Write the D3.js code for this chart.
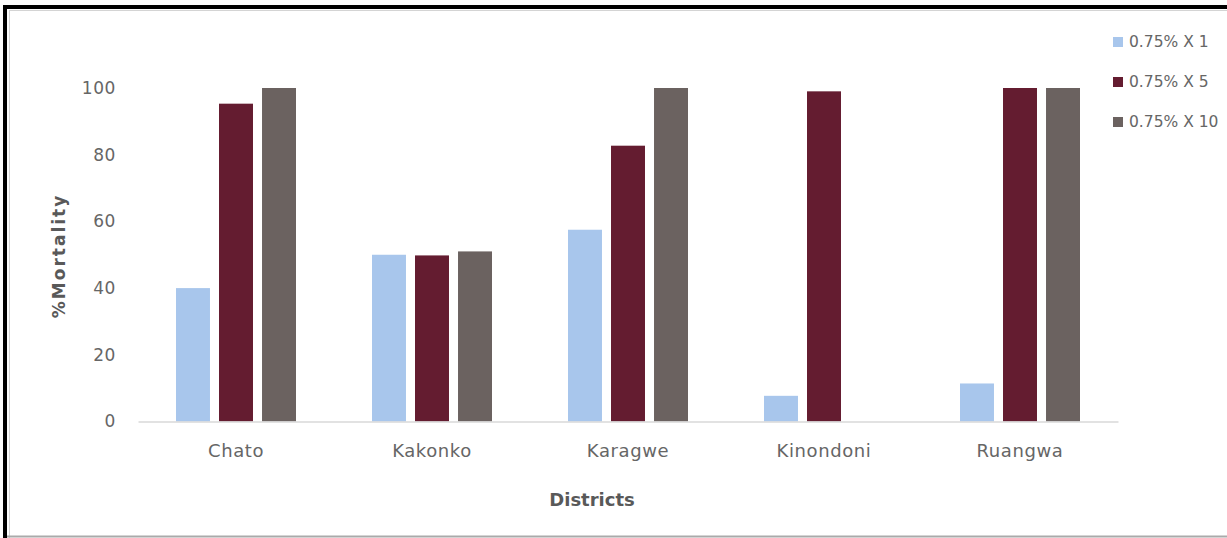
<!DOCTYPE html>
<html>
<head>
<meta charset="utf-8">
<script src="https://cdn.jsdelivr.net/npm/d3@7"></script>
<style>
  html, body { margin: 0; padding: 0; background: #fff; }
  svg { display: block; }
</style>
</head>
<body>
<svg id="chart" width="1227" height="538"></svg>
<script>
// Mortality by district for three dose levels
const districts = ["Chato", "Kakonko", "Karagwe", "Kinondoni", "Ruangwa"];
const seriesNames = ["0.75% X 1", "0.75% X 5", "0.75% X 10"];
const dose1 = [40, 50, 57.5, 7.7, 11.4];
const dose5 = [95.3, 49.8, 82.7, 99, 100];
const dose10 = [100, 51, 100, null, 100];
const yTicks = [0, 20, 40, 60, 80, 100];
const colors = ["#a8c6ec", "#641c30", "#6b6260"];

const seriesValues = [dose1, dose5, dose10];

const svg = d3.select("#chart");
const W = 1227, H = 538;

// frame
svg.append("rect").attr("x", 0).attr("y", 0).attr("width", W).attr("height", H).attr("fill", "#fff");
svg.append("line").attr("x1", 9).attr("x2", W).attr("y1", 10.5).attr("y2", 10.5)
  .attr("stroke", "#d4d4d4").attr("stroke-width", 1);
svg.append("line").attr("x1", 9.5).attr("x2", 9.5).attr("y1", 10).attr("y2", H)
  .attr("stroke", "#d4d4d4").attr("stroke-width", 1);
svg.append("line").attr("x1", 3).attr("x2", W).attr("y1", 7).attr("y2", 7)
  .attr("stroke", "#000").attr("stroke-width", 4);
svg.append("line").attr("x1", 5).attr("x2", 5).attr("y1", 5).attr("y2", H)
  .attr("stroke", "#000").attr("stroke-width", 4);
svg.append("line").attr("x1", 7).attr("x2", W).attr("y1", 536.5).attr("y2", 536.5)
  .attr("stroke", "#aaaaaa").attr("stroke-width", 2);

const plot = { left: 138, right: 1118, top: 88, bottom: 421.5 };

const x0 = d3.scaleBand().domain(districts).range([plot.left, plot.right]).paddingInner(0).paddingOuter(0);
const groupW = 120;
const x1 = d3.scaleBand().domain(seriesNames).range([0, groupW]).paddingInner(0.21);
const y = d3.scaleLinear().domain([0, 100]).range([plot.bottom, plot.top]);

const font = "'DejaVu Sans', sans-serif";
const textColor = "#666666";

// bars
const rows = districts.map((d, i) => ({
  district: d,
  values: seriesNames.map((s, j) => ({ series: s, idx: j, value: seriesValues[j][i] }))
}));

const groups = svg.append("g").selectAll("g").data(rows).join("g")
  .attr("transform", d => `translate(${x0(d.district) + x0.bandwidth() / 2 - groupW / 2},0)`);

groups.selectAll("rect").data(d => d.values.filter(v => v.value != null)).join("rect")
  .attr("x", v => x1(v.series))
  .attr("width", x1.bandwidth())
  .attr("y", v => y(v.value))
  .attr("height", v => y(0) - y(v.value))
  .attr("fill", v => colors[v.idx]);

// category axis
const xAxis = svg.append("g").attr("transform", `translate(0,${plot.bottom})`)
  .call(d3.axisBottom(x0).tickSize(0).tickPadding(23));
xAxis.select(".domain").attr("stroke", "#d9d9d9").attr("stroke-width", 1.5);
xAxis.selectAll("text").attr("font-family", font).attr("font-size", 18)
  .attr("letter-spacing", 0.6).attr("fill", textColor);

// value axis
const yAxis = svg.append("g").attr("transform", `translate(${plot.left - 22},0)`)
  .call(d3.axisLeft(y).tickValues(yTicks).tickSize(0).tickPadding(0));
yAxis.select(".domain").remove();
yAxis.selectAll("text").attr("font-family", font).attr("font-size", 17)
  .attr("letter-spacing", 0.6).attr("fill", textColor);

// axis titles
svg.append("text")
  .attr("transform", `translate(65,256) rotate(-90)`)
  .attr("text-anchor", "middle")
  .attr("font-family", font).attr("font-weight", "bold").attr("font-size", 17)
  .attr("letter-spacing", 2).attr("fill", "#595959")
  .text("%Mortality");

svg.append("text")
  .attr("x", 592).attr("y", 506)
  .attr("text-anchor", "middle")
  .attr("font-family", font).attr("font-weight", "bold").attr("font-size", 18)
  .attr("fill", "#595959")
  .text("Districts");

// legend
const legend = svg.append("g").selectAll("g").data(seriesNames).join("g")
  .attr("transform", (d, i) => `translate(1113,${42 + i * 40})`);
legend.append("rect").attr("x", 0).attr("y", -5).attr("width", 10).attr("height", 10)
  .attr("fill", (d, i) => colors[i]);
legend.append("text").attr("x", 16).attr("y", 0).attr("dy", "0.35em")
  .attr("font-family", font).attr("font-size", 15.5).attr("fill", textColor)
  .text(d => d);
</script>
</body>
</html>
